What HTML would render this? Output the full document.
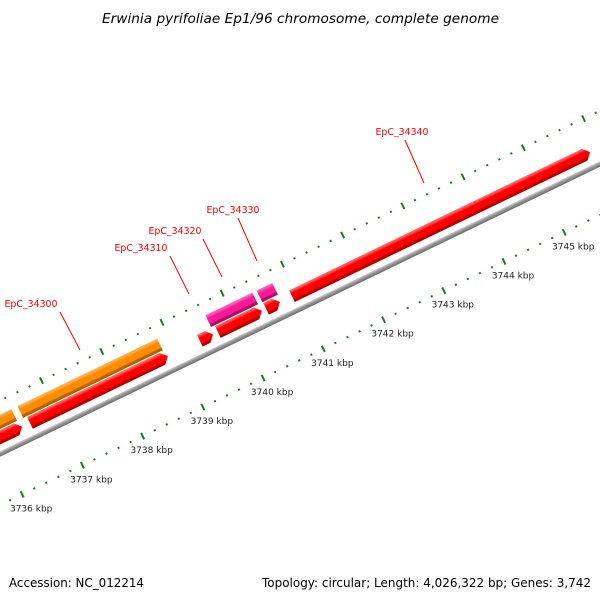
<!DOCTYPE html>
<html><head><meta charset="utf-8"><style>
html,body{margin:0;padding:0;background:#fff}
svg{display:block}
text{font-family:"DejaVu Sans","Liberation Sans",sans-serif}
</style></head><body>
<svg id="map" width="600" height="600" viewBox="0 0 600 600" xmlns="http://www.w3.org/2000/svg">
<defs>
<linearGradient id="gRed" x1="0" y1="0" x2="0" y2="1"><stop offset="0" stop-color="#ff7a7a"/><stop offset="0.22" stop-color="#ff2a2a"/><stop offset="0.3" stop-color="#f00"/><stop offset="0.72" stop-color="#f00"/><stop offset="0.78" stop-color="#c00000"/><stop offset="1" stop-color="#a80000"/></linearGradient>
<linearGradient id="gOrange" x1="0" y1="0" x2="0" y2="1"><stop offset="0" stop-color="#ffb860"/><stop offset="0.25" stop-color="#ff9a20"/><stop offset="0.3" stop-color="#ff8c00"/><stop offset="0.72" stop-color="#ff8c00"/><stop offset="0.78" stop-color="#c26a00"/><stop offset="1" stop-color="#a85a00"/></linearGradient>
<linearGradient id="gMag" x1="0" y1="0" x2="0" y2="1"><stop offset="0" stop-color="#ff70c0"/><stop offset="0.25" stop-color="#ff30a8"/><stop offset="0.3" stop-color="#f8189a"/><stop offset="0.72" stop-color="#f8189a"/><stop offset="0.78" stop-color="#b8106e"/><stop offset="1" stop-color="#9a0c5c"/></linearGradient>
<linearGradient id="gGray" x1="0" y1="0" x2="0" y2="1"><stop offset="0" stop-color="#d0d0d0"/><stop offset="0.4" stop-color="#9a9a9a"/><stop offset="1" stop-color="#6a6a6a"/></linearGradient>
</defs>
<text x="102" y="23" textLength="397" lengthAdjust="spacingAndGlyphs" font-size="13" font-style="italic" fill="#000">Erwinia pyrifoliae Ep1/96 chromosome, complete genome</text>
<g id="rot" transform="translate(0,454) rotate(-25.8)">
  <rect x="-100" y="-2.5" width="900" height="5" fill="url(#gGray)"/>
</g>
<g id="labels"></g>
<g id="glabels"></g>
<text x="9" y="587" textLength="135" lengthAdjust="spacingAndGlyphs" font-size="12" fill="#000">Accession: NC_012214</text>
<text x="262" y="587" textLength="329" lengthAdjust="spacingAndGlyphs" font-size="12" fill="#000">Topology: circular; Length: 4,026,322 bp; Genes: 3,742</text>
</svg>
<script>
const featStart = [3735.0, 3736.57, 3739.39, 3739.69, 3740.49, 3740.92, 3735.0, 3736.51, 3739.63, 3740.48];
const featEnd   = [3736.44, 3738.86, 3739.61, 3740.42, 3740.72, 3745.87, 3736.41, 3738.83, 3740.41, 3740.74];
const featLane  = [0, 0, 0, 0, 0, 0, 1, 1, 1, 1];
const featColor = ['red','red','red','red','red','red','orange','orange','mag','mag'];
const featArrow = [1, 1, 1, 1, 1, 1, 0, 0, 0, 0];
const geneNames = ['EpC_34300','EpC_34310','EpC_34320','EpC_34330','EpC_34340'];
const geneLabelX = [31, 141, 175, 233, 402];
const geneLabelY = [307, 251, 234, 213, 135];
const geneLineEndX = [80, 189, 222, 257, 424];
const geneLineEndY = [350, 294, 277, 261, 183];
const tickStart = 3735.0, tickEnd = 3747.0, tickStep = 0.2;
const kbpLabels = [3736,3737,3738,3739,3740,3741,3742,3743,3744,3745];

const NS='http://www.w3.org/2000/svg';
const TH=25.8*Math.PI/180, C=Math.cos(TH), S=Math.sin(TH);
const OX=0, OY=454;
function sOf(k){return 2.4+66.9*(k-3736);}
function toXY(s,d){return [OX+s*C+d*S, OY-s*S+d*C];}
const laneD=[-15,-29], H=6.5;
const rot=document.getElementById('rot');
function mk(tag,attrs,parent){const e=document.createElementNS(NS,tag);for(const a in attrs)e.setAttribute(a,attrs[a]);parent.appendChild(e);return e;}

const tg=mk('g',{},rot);


const n=Math.round((tickEnd-tickStart)/tickStep);
for(let i=0;i<=n;i++){
  const k=tickStart+i*tickStep; const s=sOf(k);
  const major=Math.abs(k-Math.round(k))<1e-6;
  [-48,46].forEach(function(d){
    const len=major?3.5:1;
    const t=mk('line',{x1:s,x2:s,y1:d-len,y2:d+len,stroke:'#1a7f1a','stroke-width':2},tg);
    
    
  });
}
const grads={red:'url(#gRed)',orange:'url(#gOrange)',mag:'url(#gMag)'};
for(let i=0;i<featStart.length;i++){
  const s0=sOf(featStart[i]), s1=sOf(featEnd[i]), dc=laneD[featLane[i]];
  let pts;
  if(featArrow[i]){
    const hl=Math.min(6,(s1-s0)*0.5);
    pts=[[s0,dc-H],[s1-hl,dc-H],[s1,dc],[s1-hl,dc+H],[s0,dc+H]];
  } else {
    pts=[[s0,dc-H],[s1,dc-H],[s1,dc+H],[s0,dc+H]];
  }
  const p=mk('polygon',{points:pts.map(q=>q.join(',')).join(' '),fill:grads[featColor[i]]},rot);
  
  
}
const lg=document.getElementById('labels');
kbpLabels.forEach(function(k){
  const xy=toXY(sOf(k),46);
  const t=mk('text',{x:xy[0]+9,y:xy[1]+17,'text-anchor':'middle','font-size':9,fill:'#222'},lg);
  t.textContent=k+' kbp';
  
  
});
const gl=document.getElementById('glabels');
geneNames.forEach(function(name,j){
  const ln=mk('line',{x1:geneLabelX[j]+29-(j===0?0:0),y1:geneLabelY[j]+5,x2:geneLineEndX[j],y2:geneLineEndY[j],stroke:'#f00','stroke-width':1},gl);
  ln.setAttribute('x1', geneLineEndX[j]-19-(j===0?1:0));
  
  
  const t=mk('text',{x:geneLabelX[j],y:geneLabelY[j],'text-anchor':'middle','font-size':10,fill:'#f00',textLength:53,lengthAdjust:'spacingAndGlyphs'},gl);
  t.textContent=name;
  
  
});
</script>
</body></html>
